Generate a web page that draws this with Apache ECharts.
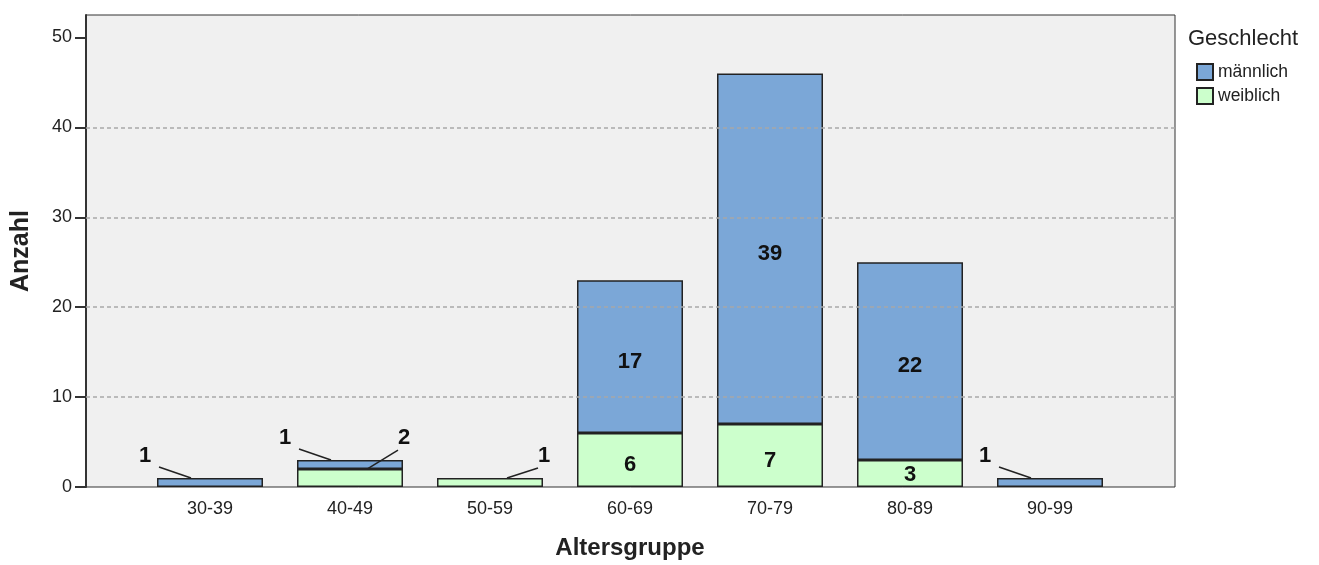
<!DOCTYPE html>
<html>
<head>
<meta charset="utf-8">
<script src="https://cdn.jsdelivr.net/npm/echarts@6/dist/echarts.min.js"></script>
<style>
  html, body { margin: 0; padding: 0; background: #fff; }
  #main { width: 1319px; height: 565px; }
</style>
</head>
<body>
<div id="main"></div>
<script>
var altersgruppen = ["30-39", "40-49", "50-59", "60-69", "70-79", "80-89", "90-99"];
var maennlich = [1, 1, 0, 17, 39, 22, 1];
var weiblich = [0, 2, 1, 6, 7, 3, 0];
var yTicks = [0, 10, 20, 30, 40, 50];
var gridVals = [10, 20, 30, 40];

var FONT = "Arial, 'Liberation Sans', sans-serif";
var BAR_W = 106;
var chart = echarts.init(document.getElementById("main"));

// kleine Segmente (<= 2): Label ausserhalb, mit Linie
function isSmall(v) { return v > 0 && v <= 2; }

// Daten fuer die Hinweislinien: [Kategorie, Segment-Oberkante, Stapel-Oberkante, Seite]
var leaderData = [];
altersgruppen.forEach(function (c, i) {
  var total = maennlich[i] + weiblich[i];
  if (isSmall(maennlich[i])) leaderData.push([i, total, total, 0]);
  if (isSmall(weiblich[i])) leaderData.push([i, weiblich[i], total, 1]);
});

function labelPos(side, cx, stackTopPx) {
  var half = BAR_W / 2;
  return {
    x: side === 0 ? cx - half - 12 : cx + half + 1,
    y: stackTopPx - 22
  };
}

function smallLabel(side) {
  return function (p) {
    var i = p.dataIndex;
    var v = side === 0 ? maennlich[i] : weiblich[i];
    if (!isSmall(v)) return { dy: p.rect.height < 40 ? 1 : 5 };
    var top = chart.convertToPixel({ yAxisIndex: 1 }, maennlich[i] + weiblich[i]);
    var pos = labelPos(side, p.rect.x + p.rect.width / 2, top);
    return { x: pos.x, y: pos.y, align: "center", verticalAlign: "middle" };
  };
}

function renderLeader(params, api) {
  var side = api.value(3);
  var seg = api.coord([api.value(0), api.value(1)]);
  var top = api.coord([api.value(0), api.value(2)]);
  var half = BAR_W / 2;
  var pos = labelPos(side, seg[0], top[1]);
  var x1, y1, x2;
  if (side === 0) {
    x1 = pos.x + 14; y1 = pos.y + 11; x2 = seg[0] - half + 34;
  } else {
    x1 = pos.x - 6; y1 = pos.y + 12; x2 = seg[0] + half - 36;
  }
  return {
    type: "line",
    shape: { x1: x1, y1: y1, x2: x2, y2: seg[1] },
    style: { stroke: "#222", lineWidth: 1.5 }
  };
}

var barLabel = {
  show: true,
  position: "inside",
  color: "#111",
  fontFamily: FONT,
  fontWeight: "bold",
  fontSize: 22,
  formatter: function (p) { return p.value > 0 ? p.value : ""; }
};

var option = {
  animation: false,
  title: {
    text: "Geschlecht",
    left: 1183,
    top: 23,
    textStyle: { fontFamily: FONT, fontSize: 22, fontWeight: "normal", color: "#222" }
  },
  legend: {
    data: ["männlich", "weiblich"],
    orient: "vertical",
    left: 1191,
    top: 58,
    icon: "rect",
    itemWidth: 16,
    itemHeight: 16,
    itemGap: 6,
    textStyle: { fontFamily: FONT, fontSize: 17.5, color: "#222" }
  },
  grid: [{
    left: 86,
    right: 144,
    top: 15,
    bottom: 78,
    show: true,
    backgroundColor: "#f0f0f0",
    borderColor: "#333",
    borderWidth: 1
  },
  {
    left: 140,
    right: 199,
    top: 15,
    bottom: 78
  }
  ],
  xAxis: [{
    gridIndex: 0,
    type: "value",
    min: 0,
    max: 1,
    show: false
  },
  {
    gridIndex: 1,
    type: "category",
    data: altersgruppen,
    name: "Altersgruppe",
    nameLocation: "middle",
    nameGap: 49,
    nameTextStyle: { fontFamily: FONT, fontSize: 24, fontWeight: "bold", color: "#222" },
    axisLine: { show: false },
    axisTick: { alignWithLabel: true, length: 10, lineStyle: { color: "#333", width: 2 } },
    axisLabel: { margin: 13, fontFamily: FONT, fontSize: 18, color: "#222" }
  }
  ],
  yAxis: [{
    gridIndex: 0,
    type: "value",
    min: 0,
    max: 52.5,
    name: "Anzahl",
    nameLocation: "middle",
    nameGap: 52,
    nameTextStyle: { fontFamily: FONT, fontSize: 25, fontWeight: "bold", color: "#222" },
    axisLine: { show: true, lineStyle: { color: "#333", width: 2 } },
    axisTick: { show: true, length: 11, customValues: yTicks, lineStyle: { color: "#333", width: 2 } },
    axisLabel: { margin: 14, customValues: yTicks, fontFamily: FONT, fontSize: 18, color: "#222" },
    splitLine: { show: false }
  },
  {
    gridIndex: 1,
    type: "value",
    min: 0,
    max: 52.5,
    show: false,
    splitLine: { show: false }
  }
  ],
  series: [{
    name: "weiblich",
    type: "bar",
    xAxisIndex: 1,
    yAxisIndex: 1,
    stack: "gesamt",
    barWidth: BAR_W,
    data: weiblich.map(function (v) { return v || "-"; }),
    itemStyle: { color: "#ccffcc", borderColor: "#222", borderWidth: 1.5 },
    label: barLabel,
    labelLayout: smallLabel(1)
  },
  {
    name: "männlich",
    type: "bar",
    xAxisIndex: 1,
    yAxisIndex: 1,
    stack: "gesamt",
    barWidth: BAR_W,
    data: maennlich.map(function (v) { return v || "-"; }),
    itemStyle: { color: "#7ba7d7", borderColor: "#222", borderWidth: 1.5 },
    label: barLabel,
    labelLayout: smallLabel(0)
  },
  {
    type: "custom",
    xAxisIndex: 1,
    yAxisIndex: 1,
    silent: true,
    z: 4,
    data: leaderData,
    renderItem: renderLeader
  },
  {
    // nur fuer die Hilfslinien (liegen ueber den Balken)
    type: "line",
    xAxisIndex: 0,
    yAxisIndex: 0,
    data: [],
    silent: true,
    z: 5,
    markLine: {
      silent: true,
      symbol: "none",
      label: { show: false },
      lineStyle: { color: "#a8a8a8", type: [4, 3], width: 1.5 },
      data: gridVals.map(function (v) { return { yAxis: v }; })
    }
  }
  ]
};

chart.setOption(option);
</script>
</body>
</html>
